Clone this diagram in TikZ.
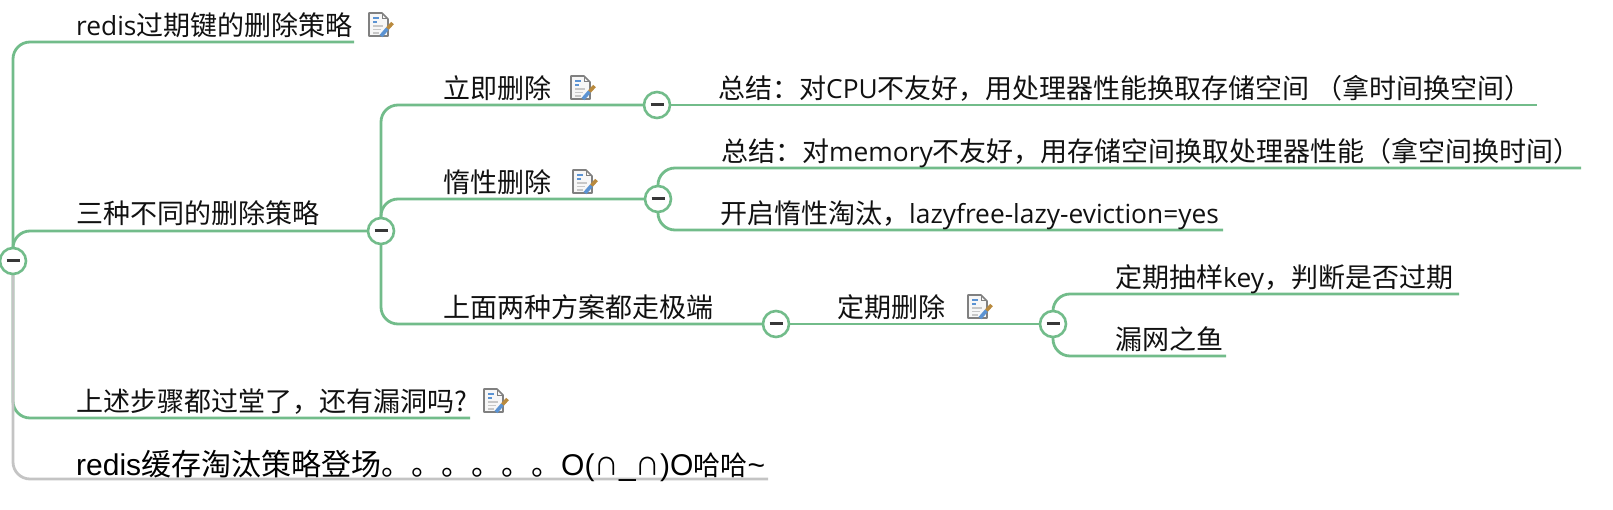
\documentclass[tikz,border=0pt]{standalone}
\usepackage{fontspec}
\setmainfont{Noto Sans CJK SC}
\newfontfamily\latinfont[Scale=0.975]{Open Sans}
\newfontfamily\arialfont{Liberation Sans}
\usetikzlibrary{calc}
\definecolor{branchgreen}{HTML}{72BC8A}
\definecolor{branchgray}{HTML}{C4C4C4}
\definecolor{textdark}{HTML}{111111}
\definecolor{penblue}{HTML}{5B93D3}
\definecolor{pentan}{HTML}{B98A3E}
\newcommand{\smallcjk}{\fontsize{27}{30}\selectfont}
\newcommand{\capglyph}{{\fontsize{24.5}{30}\selectfont ∩}}
\tikzset{
  topic/.style={anchor=base west, inner sep=0pt, xshift=-1pt, yshift=-0.5pt, text=textdark, font=\fontsize{27}{32}\selectfont},
  branch/.style={draw=branchgreen, line width=2.8pt, rounded corners=17pt},
  foldbtn/.style={circle, draw=branchgreen, line width=2.6pt, fill=white, minimum size=26pt, inner sep=0pt,
    path picture={\draw[black!78, line width=3pt]
      ([xshift=-6.5pt]path picture bounding box.center) -- ([xshift=6.5pt]path picture bounding box.center);}},
  noteicon/.pic={
    \draw[black!50, line width=1.6pt, fill=black!3, line join=round] (1,1) -- (14,1) -- (20,7) -- (20,24) -- (1,24) -- cycle;
    \draw[black!50, line width=1pt] (14,1) -- (14,7) -- (20,7);
    \draw[penblue, line width=1.5pt] (5,6) -- (11,6) (5,10) -- (9,10);
    \draw[black!22, line width=1.3pt] (5,14) -- (15,14) (5,17.5) -- (13,17.5) (5,21) -- (11,21);
    \draw[penblue, line width=3.6pt] (13,24) -- (19.5,16.5);
    \draw[pentan, line width=3.6pt] (19.5,16.5) -- (24.5,11);
  }
}
\begin{document}
\begin{tikzpicture}[x=1pt,y=-1pt]
  \useasboundingbox (0,0) rectangle (1613,510);

  % fold buttons
  \coordinate (root) at (13,261);
  \coordinate (three) at (381,231);
  \coordinate (now) at (657,105);
  \coordinate (lazy) at (658,199);
  \coordinate (both) at (776,324);
  \coordinate (timed) at (1053,324);

  % line ends
  \coordinate (expire-end) at (354,42);
  \coordinate (steps-end) at (470,418);
  \coordinate (evict-end) at (768,479);
  \coordinate (now-sum-end) at (1537,105);
  \coordinate (lazy-sum-end) at (1581,168);
  \coordinate (lazy-cfg-end) at (1223,230);
  \coordinate (sample-end) at (1459,294);
  \coordinate (fish-end) at (1226,356);

  \path[branch] (root) |- (expire-end);
  \path[branch] (root) |- (three);
  \path[branch] (root) |- (steps-end);
  \path[branch, draw=branchgray] (root) |- (evict-end);
  \path[branch] (three) |- (now);
  \path[branch] (three) |- (lazy);
  \path[branch] (three) |- (both);
  \path[branch] (now) -- (now-sum-end);
  \path[branch] (lazy) |- (lazy-sum-end);
  \path[branch] (lazy) |- (lazy-cfg-end);
  \path[branch] (both) -- (timed);
  \path[branch] (timed) |- (sample-end);
  \path[branch] (timed) |- (fish-end);

  \node[foldbtn] (root-btn) at (root) {};
  \node[foldbtn] (three-btn) at (three) {};
  \node[foldbtn] (now-btn) at (now) {};
  \node[foldbtn] (lazy-btn) at (lazy) {};
  \node[foldbtn] (both-btn) at (both) {};
  \node[foldbtn] (timed-btn) at (timed) {};

  \node[topic] (expire) at (77,35) {{\latinfont redis}过期键的删除策略};
  \node[topic] (threeways) at (77,223) {三种不同的删除策略};
  \node[topic] (steps) at (77,411) {上述步骤都过堂了，还有漏洞吗?};
  \node[topic, font=\fontsize{30}{36}\selectfont, text=black] (evict) at (77,475)
    {{\arialfont redis}缓存淘汰策略登场。。。。。。{\arialfont O(}\capglyph{\arialfont\_}\capglyph{\arialfont )O}{\smallcjk 哈哈}{\arialfont\char`\~}};
  \node[topic] (now-del) at (444,98) {立即删除};
  \node[topic] (lazy-del) at (444,192) {惰性删除};
  \node[topic] (both-ext) at (444,317) {上面两种方案都走极端};
  \node[topic] (now-sum) at (719,98) {总结：对{\latinfont CPU}不友好，用处理器性能换取存储空间 （拿时间换空间）};
  \node[topic] (lazy-sum) at (722,161) {总结：对{\latinfont memory}不友好，用存储空间换取处理器性能（拿空间换时间）};
  \node[topic] (lazy-cfg) at (721,223) {开启惰性淘汰，{\latinfont lazyfree-lazy-eviction=yes}};
  \node[topic] (timed-del) at (838,317) {定期删除};
  \node[topic] (sample) at (1116,287) {定期抽样{\latinfont key}，判断是否过期};
  \node[topic] (fish) at (1116,349) {漏网之鱼};

  \pic at (368,12) {noteicon};
  \pic at (570,75) {noteicon};
  \pic at (572,169) {noteicon};
  \pic at (967,294) {noteicon};
  \pic at (483,388) {noteicon};
\end{tikzpicture}
\end{document}
